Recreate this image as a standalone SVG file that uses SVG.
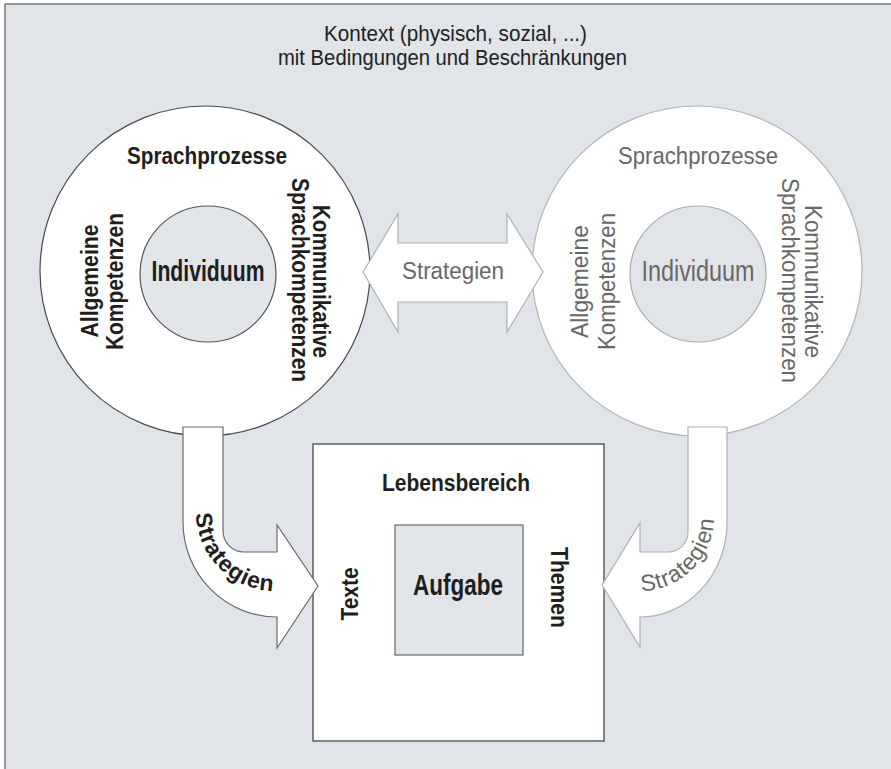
<svg xmlns="http://www.w3.org/2000/svg" width="891" height="769" viewBox="0 0 891 769">
<style>
  text { font-family: "Liberation Sans", Arial, sans-serif; }
  .dk { fill: #1e1e1e; font-weight: bold; font-size: 23px; }
  .lt { fill: #676767; font-size: 23px; }
  .big { font-size: 30px; }
  .mid { text-anchor: middle; }
  .ttl { fill: #222; font-size: 21.5px; text-anchor: middle; }
  .dkline { fill: #ffffff; stroke: #4a4a4a; stroke-width: 1.2; }
  .ltline { fill: #ffffff; stroke: #b4b4b4; stroke-width: 1.2; }
  .inner-dk { fill: #e1e4e9; stroke: #555; stroke-width: 1.2; }
  .inner-lt { fill: #e1e4e9; stroke: #aaa; stroke-width: 1.2; }
  .arr-dk { fill: #ffffff; stroke: #6a6a6a; stroke-width: 1.2; stroke-linejoin: miter; }
  .arr-lt { fill: #ffffff; stroke: #b0b0b0; stroke-width: 1.2; stroke-linejoin: miter; }
</style>
<defs>
  <path id="pL" d="M 196 512 A 79 79 0 0 0 275 591"/>
  <path id="pR" d="M 640 591 A 74 74 0 0 0 714 517"/>
</defs>
<rect x="0" y="0" width="891" height="769" fill="#ffffff"/>
<g id="context">
  <rect x="5" y="4" width="900" height="800" fill="#e1e4e9" stroke="#666" stroke-width="1.3"/>
  <text class="ttl" x="455.5" y="41" textLength="263" lengthAdjust="spacingAndGlyphs">Kontext (physisch, sozial, ...)</text>
  <text class="ttl" x="452.5" y="65" textLength="349" lengthAdjust="spacingAndGlyphs">mit Bedingungen und Beschränkungen</text>
</g>
<g id="individuum-left">
  <circle class="dkline" cx="205" cy="271" r="165"/>
  <circle class="inner-dk" cx="208" cy="274" r="68"/>
  <text class="dk mid" x="207" y="164" textLength="160" lengthAdjust="spacingAndGlyphs">Sprachprozesse</text>
  <text class="dk mid big" x="208" y="281" textLength="113" lengthAdjust="spacingAndGlyphs">Individuum</text>
  <text class="dk mid" transform="translate(98,281) rotate(-90)" textLength="113" lengthAdjust="spacingAndGlyphs">Allgemeine</text>
  <text class="dk mid" transform="translate(122.5,281.5) rotate(-90)" textLength="137" lengthAdjust="spacingAndGlyphs">Kompetenzen</text>
  <text class="dk mid" transform="translate(313,281.5) rotate(90)" textLength="153" lengthAdjust="spacingAndGlyphs">Kommunikative</text>
  <text class="dk mid" transform="translate(291.5,280) rotate(90)" textLength="204" lengthAdjust="spacingAndGlyphs">Sprachkompetenzen</text>
</g>
<g id="individuum-right">
  <circle class="ltline" cx="697" cy="271" r="165"/>
  <circle class="inner-lt" cx="698" cy="274" r="68"/>
  <text class="lt mid" x="698" y="164" textLength="160" lengthAdjust="spacingAndGlyphs">Sprachprozesse</text>
  <text class="lt mid big" x="698" y="281" textLength="113" lengthAdjust="spacingAndGlyphs">Individuum</text>
  <text class="lt mid" transform="translate(588,281.5) rotate(-90)" textLength="113" lengthAdjust="spacingAndGlyphs">Allgemeine</text>
  <text class="lt mid" transform="translate(615,281.5) rotate(-90)" textLength="137" lengthAdjust="spacingAndGlyphs">Kompetenzen</text>
  <text class="lt mid" transform="translate(805,281.5) rotate(90)" textLength="153" lengthAdjust="spacingAndGlyphs">Kommunikative</text>
  <text class="lt mid" transform="translate(781.5,280.5) rotate(90)" textLength="205" lengthAdjust="spacingAndGlyphs">Sprachkompetenzen</text>
</g>
<g id="lebensbereich">
  <rect x="313" y="444" width="291" height="297" fill="#ffffff" stroke="#555" stroke-width="1.4"/>
  <rect x="395" y="525" width="128" height="130" fill="#e1e4e9" stroke="#666" stroke-width="1.2"/>
  <text class="dk mid" x="456" y="491" textLength="148" lengthAdjust="spacingAndGlyphs">Lebensbereich</text>
  <text class="dk mid big" x="458" y="595" textLength="90" lengthAdjust="spacingAndGlyphs">Aufgabe</text>
  <text class="dk mid" transform="translate(358,594) rotate(-90)" font-size="26" textLength="53" lengthAdjust="spacingAndGlyphs">Texte</text>
  <text class="dk mid" transform="translate(550.5,587.5) rotate(90)" font-size="25" textLength="81" lengthAdjust="spacingAndGlyphs">Themen</text>
</g>
<g id="connectors">
  <g id="strategien-double">
    <path class="arr-lt" d="M 363 272 L 398 214 L 398 243 L 507 243 L 507 214 L 543 272 L 507 332 L 507 302 L 398 302 L 398 332 Z"/>
    <text class="lt mid" x="453" y="279" font-size="24" textLength="102" lengthAdjust="spacingAndGlyphs">Strategien</text>
  </g>
  <g id="strategien-left">
    <path class="arr-dk" d="M 183 427 L 223 427 L 223 531 A 21 21 0 0 0 244 552 L 277 552 L 277 525 L 318 586 L 277 648 L 277 617 A 94 95 0 0 1 183 522 Z"/>
    <text class="dk" font-size="23" letter-spacing="0.8"><textPath href="#pL" startOffset="50%" text-anchor="middle">Strategien</textPath></text>
  </g>
  <g id="strategien-right">
    <path class="arr-lt" d="M 688 427 L 727 427 L 727 522 A 87 95 0 0 1 640 617 L 640 647 L 602 585 L 640 523 L 640 552 L 668 552 A 20 20 0 0 0 688 532 Z"/>
    <text class="lt" font-size="23" letter-spacing="0.8"><textPath href="#pR" startOffset="50%" text-anchor="middle">Strategien</textPath></text>
  </g>
</g>
</svg>
